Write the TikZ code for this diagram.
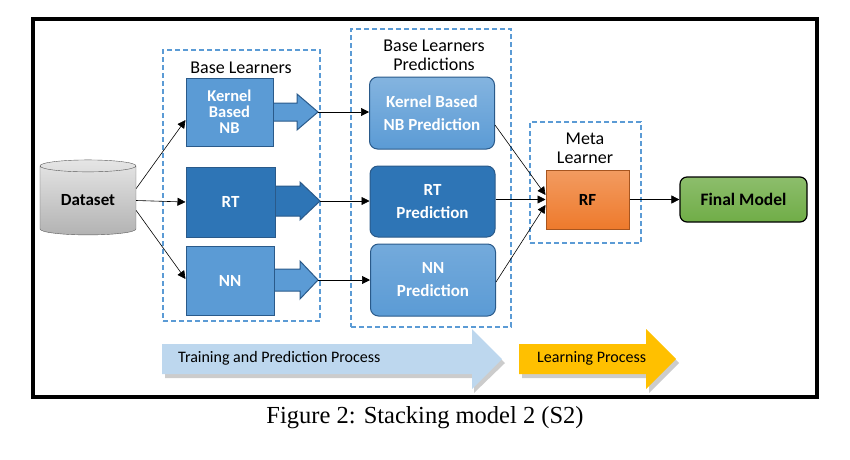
\documentclass[tikz,border=0pt]{standalone}
\usepackage{fontspec}
\setmainfont{Carlito}
\newfontfamily\capfont{Liberation Serif}
\usetikzlibrary{shapes.geometric,arrows.meta}
\definecolor{lb}{HTML}{5B9BD5}
\definecolor{db}{HTML}{2E75B6}
\definecolor{bd}{HTML}{2A5A8A}
\definecolor{dash}{HTML}{5B9BD5}
\definecolor{orng}{HTML}{EE7A2C}
\definecolor{grn}{HTML}{70AD47}
\definecolor{ltb}{HTML}{BDD7EE}
\definecolor{yel}{HTML}{FFC000}
\begin{document}
\begin{tikzpicture}[x=1pt,y=-1pt,
  grp/.style={draw=dash,dashed,line width=1.3pt,dash pattern=on 5pt off 3pt},
  gtitle/.style={font=\fontsize{18}{19}\selectfont,align=center,inner sep=0},
  lrn/.style={draw=bd,line width=1pt,text=white,font=\bfseries\fontsize{17}{18}\selectfont,align=center,inner sep=0,minimum width=88pt},
  pred/.style={lrn,rounded corners=8pt,minimum width=125pt,font=\bfseries\fontsize{17}{23}\selectfont},
  con/.style={-{Triangle[length=8pt,width=8pt]},line width=0.6pt},
  barrow/.style={draw=bd,line width=1pt},
]
\useasboundingbox (0,0) rectangle (850,459);
\draw[line width=3.5pt] (33,19) rectangle (817,397);
% groups
\node[grp,minimum width=157pt,minimum height=271pt,inner sep=0] (g1) at (241.5,185.5) {};
\node[gtitle] (g1t) at (241,68) {Base Learners};
\node[grp,minimum width=160pt,minimum height=298pt,inner sep=0] (g2) at (431,178) {};
\node[gtitle] (g2t) at (434,55) {Base Learners\\Predictions};
\node[grp,minimum width=111pt,minimum height=121pt,inner sep=0] (g3) at (585.5,182.5) {};
\node[gtitle] (g3t) at (585,148) {Meta\\Learner};
% dataset
\node[cylinder,shape border rotate=90,aspect=0.22,draw=gray!70!black,top color=gray!20,bottom color=gray!60,minimum width=96pt,minimum height=75pt,inner sep=0,font=\bfseries\fontsize{17}{18}\selectfont] (ds) at (88,200.5) {Dataset};
% learner block arrows
\fill[lb] (270,103) -- (297,103) -- (297,94) -- (318,112) -- (297,130) -- (297,121) -- (270,121) -- cycle;
\draw[barrow] (273,103) -- (297,103) -- (297,94) -- (318,112) -- (297,130) -- (297,121) -- (273,121);
\fill[db] (272,186) -- (300,186) -- (300,182) -- (320,201) -- (300,220) -- (300,216) -- (272,216) -- cycle;
\draw[barrow] (275,186) -- (300,186) -- (300,182) -- (320,201) -- (300,220) -- (300,216) -- (275,216);
\fill[lb] (271,269) -- (300,269) -- (300,261) -- (318,280) -- (300,299) -- (300,291) -- (271,291) -- cycle;
\draw[barrow] (274,269) -- (300,269) -- (300,261) -- (318,280) -- (300,299) -- (300,291) -- (274,291);
\coordinate (t1) at (318,112);
\coordinate (t2) at (320,201);
\coordinate (t3) at (318,280);
\node[lrn,fill=lb,minimum width=87pt,minimum height=68pt,font=\bfseries\fontsize{16.5}{16}\selectfont] (knb) at (229.5,112) {Kernel\\Based\\NB};
\node[lrn,fill=db,minimum width=89pt,minimum height=70pt] (rt) at (230.5,202) {RT};
\node[lrn,fill=lb,minimum width=88pt,minimum height=69pt] (nn) at (230,280.5) {NN};
% predictions
\node[pred,top color=lb!75,bottom color=lb,minimum height=72pt] (p1) at (432,113) {Kernel Based\\NB Prediction};
\node[pred,fill=db,minimum height=71pt] (p2) at (432.5,201.5) {RT\\Prediction};
\node[pred,top color=lb!85,bottom color=lb,minimum height=72pt] (p3) at (433,280) {NN\\Prediction};
% meta and final
\node[draw=orng!70!black,line width=1pt,top color=orng!75,bottom color=orng,minimum width=83pt,minimum height=59pt,inner sep=0,font=\bfseries\fontsize{17}{18}\selectfont] (rf) at (587.5,199.5) {RF};
\node[draw=black,line width=1.2pt,rounded corners=7pt,top color=grn!80,bottom color=grn,minimum width=127pt,minimum height=45pt,inner sep=0,font=\bfseries\fontsize{17.5}{18}\selectfont] (fm) at (743.5,199.5) {Final Model};
% connectors
\draw[con] (ds.east) ++(0,-12) coordinate (d1) -- (knb.west |- 0,120);
\draw[con] (ds.east) -- (rt.west);
\draw[con] (ds.east) ++(0,10) coordinate (d3) -- (nn.west |- 0,279);
\draw[con] (t1) -- (p1.west |- t1);
\draw[con] (t2) -- (p2.west |- t2);
\draw[con] (t3) -- (p3.west |- t3);
\draw[con] (p1.east |- 0,125) -- (rf.west |- 0,195);
\draw[con] (p2.east |- rf.west) -- (rf.west);
\draw[con] (p3.east |- 0,282) -- (rf.west |- 0,205);
\draw[con] (rf.east) -- (fm.west);
% process arrows
\fill[gray!40] (165,348) -- (474,348) -- (474,333) -- (505,363) -- (474,393) -- (474,378) -- (165,378) -- cycle;
\fill[ltb] (162,344) -- (472,344) -- (472,329) -- (502,359) -- (472,389) -- (472,374) -- (162,374) -- cycle;
\node[font=\fontsize{16}{17}\selectfont,anchor=west,inner sep=0] (tp) at (178,358) {Training and Prediction Process};
\fill[gray!40] (522,348) -- (649,348) -- (649,333) -- (679,363) -- (649,393) -- (649,378) -- (522,378) -- cycle;
\fill[yel] (519,344) -- (646,344) -- (646,329) -- (676,359) -- (646,389) -- (646,374) -- (519,374) -- cycle;
\node[font=\fontsize{16}{17}\selectfont,anchor=west,inner sep=0] (lp) at (537,358) {Learning Process};
\node[font=\capfont\fontsize{24.5}{25}\selectfont,inner sep=0] (cap) at (425,418) {Figure 2: Stacking model 2 (S2)};
\end{tikzpicture}
\end{document}
